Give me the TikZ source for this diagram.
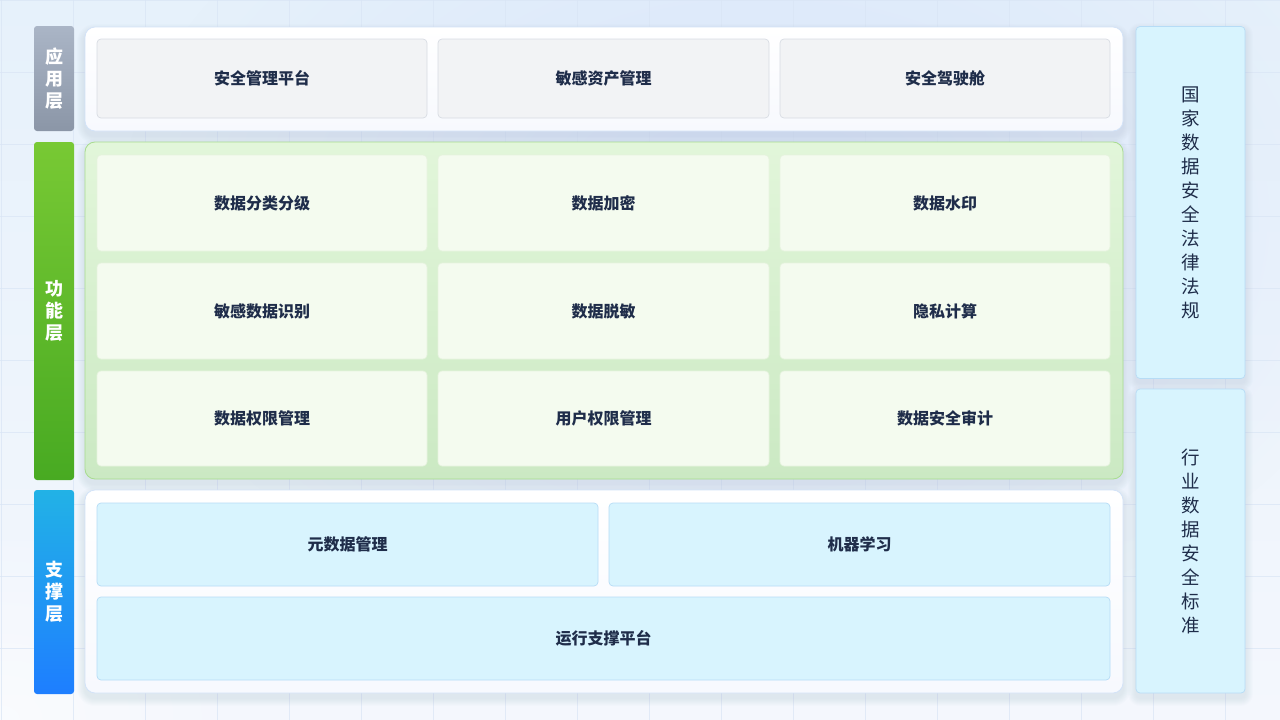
\documentclass[tikz,border=0pt]{standalone}
\usepackage{fontspec}
\setmainfont{Noto Sans CJK SC}
\newfontfamily\cjk{Noto Sans CJK SC}
\usetikzlibrary{fadings}
\definecolor{txt}{HTML}{1F2D4A}
\definecolor{gridc}{HTML}{D9E5F5}
\definecolor{panelborder}{HTML}{D3E3F8}
\definecolor{panelbottom}{HTML}{F7F9FE}
\definecolor{grayfill}{HTML}{F2F3F5}
\definecolor{grayborder}{HTML}{D8DCE3}
\definecolor{greenfillA}{HTML}{E2F6DA}
\definecolor{greenfillB}{HTML}{CBE9C3}
\definecolor{greenborder}{HTML}{A8DC8F}
\definecolor{greencell}{HTML}{F4FBEF}
\definecolor{greencellb}{HTML}{E6F3DE}
\definecolor{bluefill}{HTML}{D8F4FE}
\definecolor{blueborder}{HTML}{B6DCF6}
\definecolor{labgrayA}{HTML}{AAB5C6}
\definecolor{labgrayB}{HTML}{8B96A7}
\definecolor{labgreenA}{HTML}{78C934}
\definecolor{labgreenB}{HTML}{48AA22}
\definecolor{labblueA}{HTML}{22B2E6}
\definecolor{labblueB}{HTML}{1E7EFF}
\definecolor{bgTop}{HTML}{E6F1FB}
\definecolor{bgBottom}{HTML}{F4F7FD}
\definecolor{bgGlow}{HTML}{D6E3FA}
\definecolor{shadowc}{HTML}{3A5A9A}
\tikzfading[name=glowfade, inner color=transparent!10, outer color=transparent!100]
\newcommand\mysoftshadow[5]{% x1 y1 x2 y2 radius
  \foreach \k in {1,...,8}{
    \fill[shadowc, opacity=0.010, rounded corners=#5+\k]
      (#1-\k, #2-\k+5) rectangle (#3+\k, #4+\k+5);
  }}
\tikzset{
  panel/.style={draw=panelborder, line width=0.8pt, rounded corners=10pt, inner sep=0pt,
    top color=white, bottom color=panelbottom},
  greenpanel/.style={draw=greenborder, line width=0.8pt, rounded corners=10pt, inner sep=0pt,
    top color=greenfillA, bottom color=greenfillB},
  cell/.style={rounded corners=4pt, inner sep=0pt, line width=0.7pt, text=txt,
    font=\cjk\bfseries\fontsize{16}{18}\selectfont},
  graycell/.style={cell, draw=grayborder, fill=grayfill},
  greencell/.style={cell, draw=greencellb, fill=greencell},
  bluecell/.style={cell, draw=blueborder, fill=bluefill},
  sidecol/.style={rounded corners=4pt, inner sep=0pt, line width=0.7pt, draw=blueborder, fill=bluefill,
    text=txt, align=center, font=\cjk\fontsize{18.5}{24}\selectfont},
  layerlab/.style={rounded corners=3pt, inner sep=0pt, text=white, align=center,
    minimum width=40pt, font=\cjk\bfseries\fontsize{18}{22}\selectfont},
}
\begin{document}
\begin{tikzpicture}[x=1pt,y=-1pt]
\useasboundingbox (0,0) rectangle (1280,720);
% background
\shade[top color=bgTop, bottom color=bgBottom] (0,0) rectangle (1280,720);
\begin{scope}
\clip (0,0) rectangle (1280,720);
\fill[bgGlow, path fading=glowfade] (760,220) ellipse (640pt and 430pt);
\fill[white, path fading=glowfade, opacity=0.6] (0,720) ellipse (260pt and 200pt);
\end{scope}
% grid
\foreach \gx in {1,73,...,1280} \draw[gridc, line width=0.6pt, opacity=0.7] (\gx,0) -- (\gx,720);
\foreach \gy in {0,72,...,720} \draw[gridc, line width=0.6pt, opacity=0.7] (0,\gy) -- (1280,\gy);

% soft shadows
\mysoftshadow{85}{27}{1123}{131}{10}
\mysoftshadow{85}{142}{1123}{479}{10}
\mysoftshadow{85}{490}{1123}{693}{10}
\mysoftshadow{1136}{26}{1245}{378}{4}
\mysoftshadow{1136}{389}{1245}{693}{4}

% layer labels
\node[layerlab, minimum height=105pt, top color=labgrayA, bottom color=labgrayB] (labApp) at (54,78.5) {应\\用\\层};
\node[layerlab, minimum height=338pt, top color=labgreenA, bottom color=labgreenB] (labFun) at (54,311) {功\\能\\层};
\node[layerlab, minimum height=204pt, top color=labblueA, bottom color=labblueB] (labSup) at (54,592) {支\\撑\\层};

% panels
\node[panel, minimum width=1038pt, minimum height=104pt] (pApp) at (604,79) {};
\node[greenpanel, minimum width=1038pt, minimum height=337pt] (pFun) at (604,310.5) {};
\node[panel, minimum width=1038pt, minimum height=203pt] (pSup) at (604,591.5) {};

% application layer cells
\node[graycell, minimum width=330pt, minimum height=79pt] (a1) at (262,78.5) {安全管理平台};
\node[graycell, minimum width=331pt, minimum height=79pt] (a2) at (603.5,78.5) {敏感资产管理};
\node[graycell, minimum width=330pt, minimum height=79pt] (a3) at (945,78.5) {安全驾驶舱};

% function layer cells
\node[greencell, minimum width=330pt, minimum height=96pt] (f11) at (262,203) {数据分类分级};
\node[greencell, minimum width=331pt, minimum height=96pt] (f12) at (603.5,203) {数据加密};
\node[greencell, minimum width=330pt, minimum height=96pt] (f13) at (945,203) {数据水印};
\node[greencell, minimum width=330pt, minimum height=96pt] (f21) at (262,311) {敏感数据识别};
\node[greencell, minimum width=331pt, minimum height=96pt] (f22) at (603.5,311) {数据脱敏};
\node[greencell, minimum width=330pt, minimum height=96pt] (f23) at (945,311) {隐私计算};
\node[greencell, minimum width=330pt, minimum height=95pt] (f31) at (262,418.5) {数据权限管理};
\node[greencell, minimum width=331pt, minimum height=95pt] (f32) at (603.5,418.5) {用户权限管理};
\node[greencell, minimum width=330pt, minimum height=95pt] (f33) at (945,418.5) {数据安全审计};

% support layer cells
\node[bluecell, minimum width=501pt, minimum height=83pt] (s1) at (347.5,544.5) {元数据管理};
\node[bluecell, minimum width=501pt, minimum height=83pt] (s2) at (859.5,544.5) {机器学习};
\node[bluecell, minimum width=1013pt, minimum height=83pt] (s3) at (603.5,638.5) {运行支撑平台};

% right columns
\node[sidecol, minimum width=109pt, minimum height=352pt] (law) at (1190.5,202.5) {国\\家\\数\\据\\安\\全\\法\\律\\法\\规};
\node[sidecol, minimum width=109pt, minimum height=304pt] (std) at (1190.5,541) {行\\业\\数\\据\\安\\全\\标\\准};
\end{tikzpicture}
\end{document}
